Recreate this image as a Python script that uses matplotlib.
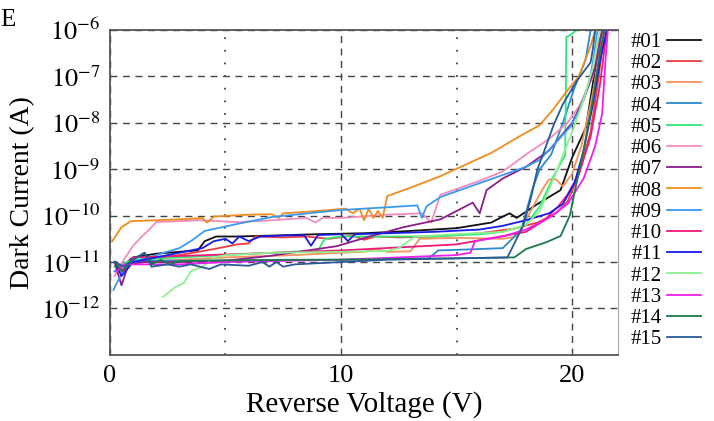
import numpy as np
import matplotlib
matplotlib.use("Agg")
from matplotlib import pyplot as plt
from matplotlib.ticker import FixedLocator, NullLocator

### reverse voltage (V) and log10 of dark current (A) for each device
v01 = [0.2, 0.5, 1.0, 2.0, 3.0, 3.8, 4.1, 4.6, 5.5, 7.0, 9.0, 11.0, 13.0, 15.0, 16.5, 17.0, 17.3, 17.6, 18.5, 19.5, 20.0, 20.6, 20.9, 21.2, 21.35]
l01 = [-11.0, -11.1, -10.9, -10.82, -10.78, -10.75, -10.55, -10.45, -10.45, -10.43, -10.4, -10.38, -10.33, -10.27, -10.15, -10.02, -9.95, -10.05, -9.75, -9.45, -8.75, -8.1, -7.15, -6.2, -6.0]

v02 = [0.3, 0.6, 1.5, 3.0, 4.5, 5.5, 6.0, 6.3, 7.5, 8.5, 9.5, 10.5, 11.0, 11.5, 12.5, 14.0, 16.0, 17.5, 18.5, 19.3, 19.8, 20.3, 20.8, 21.1, 21.4]
l02 = [-11.2, -11.05, -10.95, -10.85, -10.72, -10.62, -10.6, -10.45, -10.47, -10.45, -10.5, -10.43, -10.52, -10.45, -10.47, -10.45, -10.38, -10.28, -10.15, -9.95, -9.7, -9.1, -8.2, -7.2, -6.0]

v03 = [0.2, 1.0, 3.0, 5.0, 8.0, 10.0, 11.0, 11.5, 12.0, 13.0, 13.4, 15.0, 17.0, 17.6, 18.1, 18.7, 19.0, 19.3, 19.6, 20.0, 20.4, 20.8, 21.1, 21.3]
l03 = [-11.1, -11.0, -10.95, -10.9, -10.85, -10.8, -10.78, -10.72, -10.78, -10.77, -10.5, -10.48, -10.5, -10.45, -10.0, -9.45, -9.22, -9.22, -9.37, -9.1, -8.5, -7.6, -6.8, -6.0]

v04 = [0.2, 0.6, 1.0, 2.0, 4.0, 6.0, 8.0, 10.0, 12.0, 13.8, 14.2, 16.0, 17.0, 17.8, 18.3, 18.6, 19.1, 19.6, 20.1, 20.5, 20.6, 20.8]
l04 = [-11.2, -11.05, -10.98, -10.97, -10.97, -10.96, -10.95, -10.95, -10.93, -10.92, -10.75, -10.72, -10.7, -10.3, -9.4, -9.0, -8.68, -8.0, -7.25, -6.75, -6.6, -6.0]

v05 = [0.2, 1.0, 3.0, 5.0, 7.0, 9.0, 9.3, 10.0, 12.0, 14.0, 16.0, 17.0, 18.0, 18.6, 19.2, 19.7, 19.75, 19.9, 20.2]
l05 = [-11.1, -10.95, -10.9, -10.85, -10.8, -10.75, -10.5, -10.45, -10.45, -10.45, -10.4, -10.35, -10.2, -9.8, -9.15, -8.7, -6.15, -6.12, -6.0]

v06 = [0.2, 0.6, 1.0, 1.4, 1.7, 2.0, 3.9, 5.6, 7.0, 8.5, 8.9, 9.2, 10.0, 12.0, 13.5, 13.9, 14.3, 16.0, 17.0, 18.1, 19.0, 19.8, 20.3, 20.9, 21.1, 21.3]
l06 = [-11.3, -10.95, -10.65, -10.44, -10.3, -10.14, -10.1, -10.14, -10.1, -10.05, -10.15, -10.05, -10.05, -9.98, -9.95, -10.15, -9.55, -9.25, -9.05, -8.65, -8.35, -8.0, -7.65, -7.0, -6.5, -6.0]

v07 = [0.2, 0.5, 0.8, 1.5, 3.0, 5.0, 6.9, 9.8, 11.3, 12.7, 14.3, 15.0, 15.7, 16.0, 16.3, 17.0, 18.0, 19.0, 20.0, 20.5, 21.0, 21.3]
l07 = [-11.0, -11.5, -11.05, -11.0, -11.0, -10.97, -10.87, -10.66, -10.44, -10.25, -10.08, -9.9, -9.72, -9.95, -9.45, -9.2, -8.95, -8.6, -8.0, -7.5, -6.8, -6.0]

v08 = [0.1, 0.5, 0.9, 2.0, 3.5, 4.0, 4.2, 4.5, 6.0, 7.0, 7.3, 7.5, 9.0, 10.2, 10.5, 10.8, 11.0, 11.2, 11.4, 11.6, 11.8, 12.0, 13.0, 14.3, 16.5, 17.7, 18.6, 19.2, 19.8, 20.3, 20.8, 21.0]
l08 = [-10.55, -10.25, -10.12, -10.1, -10.07, -10.05, -10.15, -10.02, -9.98, -9.97, -10.05, -9.95, -9.9, -9.85, -9.95, -9.85, -10.1, -9.85, -10.05, -9.9, -10.05, -9.58, -9.4, -9.15, -8.65, -8.3, -8.05, -7.7, -7.3, -7.0, -6.35, -6.0]

v09 = [0.15, 0.6, 1.0, 2.0, 3.0, 3.5, 4.1, 5.5, 7.0, 9.0, 10.0, 12.0, 13.3, 13.5, 13.7, 14.3, 16.0, 18.0, 18.6, 19.9, 20.3, 20.7, 20.9, 21.1]
l09 = [-11.6, -11.15, -11.0, -10.85, -10.7, -10.55, -10.33, -10.18, -10.03, -9.93, -9.88, -9.82, -9.78, -10.05, -9.8, -9.6, -9.3, -8.95, -8.8, -8.1, -7.75, -7.2, -6.7, -6.0]

v10 = [0.3, 0.6, 1.0, 3.0, 6.0, 10.0, 15.0, 18.0, 18.8, 19.4, 19.8, 20.3, 20.8, 21.2, 21.5]
l10 = [-11.0, -11.2, -10.9, -10.87, -10.82, -10.75, -10.62, -10.35, -10.1, -9.8, -9.55, -9.1, -8.3, -7.2, -6.0]

v11 = [0.2, 0.5, 1.0, 2.0, 3.0, 4.0, 4.5, 5.0, 5.3, 5.6, 6.0, 6.5, 7.5, 8.4, 8.7, 9.0, 10.0, 10.3, 10.6, 12.0, 14.0, 16.0, 17.0, 18.0, 19.0, 19.6, 20.1, 20.5, 20.9, 21.2, 21.5]
l11 = [-11.0, -11.3, -11.0, -10.9, -10.8, -10.7, -10.55, -10.5, -10.6, -10.45, -10.55, -10.45, -10.43, -10.42, -10.65, -10.42, -10.4, -10.55, -10.4, -10.38, -10.35, -10.3, -10.22, -10.1, -9.95, -9.75, -9.3, -8.6, -7.6, -6.7, -6.0]

v12 = [2.3, 2.8, 3.2, 3.5, 4.0, 4.5, 5.0, 7.0, 10.0, 12.0, 12.5, 13.2, 15.0, 17.0, 18.0, 18.6, 19.2, 19.6, 20.0, 20.5, 20.9, 21.2]
l12 = [-11.75, -11.55, -11.45, -11.2, -11.1, -10.9, -10.85, -10.8, -10.78, -10.76, -10.7, -10.45, -10.4, -10.35, -10.2, -9.9, -9.2, -8.7, -8.2, -7.5, -6.8, -6.0]

v13 = [0.3, 0.6, 1.0, 3.0, 5.0, 10.0, 15.0, 15.6, 15.8, 17.0, 18.0, 19.0, 19.8, 20.5, 21.0, 21.3, 21.45, 21.55]
l13 = [-11.2, -11.05, -11.05, -11.05, -11.0, -10.95, -10.85, -10.8, -10.55, -10.45, -10.3, -10.05, -9.75, -9.2, -8.5, -7.8, -6.6, -6.0]

v14 = [0.2, 0.5, 1.0, 1.5, 1.8, 2.2, 2.6, 3.0, 4.0, 6.0, 10.0, 15.0, 17.5, 18.0, 18.9, 19.5, 19.9, 20.2, 20.5, 20.9, 21.2, 21.4]
l14 = [-11.0, -11.2, -10.95, -10.8, -11.05, -10.95, -11.05, -10.98, -10.97, -10.96, -10.95, -10.92, -10.9, -10.72, -10.57, -10.44, -10.0, -9.28, -8.58, -7.5, -6.5, -6.0]

v15 = [0.2, 0.6, 1.0, 1.5, 1.8, 2.5, 3.0, 3.5, 4.3, 4.8, 6.0, 6.6, 6.9, 7.2, 7.5, 8.0, 10.0, 12.0, 14.0, 17.2, 17.9, 18.2, 18.5, 18.8, 19.2, 19.6, 20.2, 20.8, 20.9, 21.0]
l15 = [-11.0, -11.1, -10.95, -10.8, -11.1, -11.05, -11.1, -11.05, -11.15, -11.05, -11.08, -11.0, -11.1, -11.0, -11.1, -11.05, -11.0, -10.95, -10.93, -10.9, -10.2, -9.65, -9.0, -8.6, -8.05, -7.6, -7.1, -6.7, -6.4, -6.0]

labels = ["#%02d" % k for k in range(1, 16)]
colors = ["#111111", "#f03c3c", "#f5925a", "#2a8acb", "#2ee87a",
          "#f28cc0", "#8b1e8b", "#f08c1e", "#3a9af0", "#f0197a",
          "#1a1ae8", "#8ef08e", "#f01ef0", "#1a7a4a", "#2a5a9a"]

voltages = [v01, v02, v03, v04, v05, v06, v07, v08, v09, v10, v11, v12, v13, v14, v15]
logcurrents = [l01, l02, l03, l04, l05, l06, l07, l08, l09, l10, l11, l12, l13, l14, l15]

plt.rcParams["font.family"] = ["Liberation Serif", "DejaVu Serif"]
plt.rcParams["mathtext.fontset"] = "stix"

fig = plt.figure(figsize=(7.14, 4.21), dpi=100)
ax = fig.add_axes([0.154, 0.157, 0.712, 0.772])

### draw every device curve
for v, lg, c, lab in zip(voltages, logcurrents, colors, labels):
    ax.plot(v, 10.0 ** np.array(lg), color=c, lw=1.3, label=lab)

ax.set_yscale("log")
ax.set_xlim(0, 22)
ax.set_ylim(1e-13, 1e-6)
ax.xaxis.set_major_locator(FixedLocator([0, 10, 20]))
ax.xaxis.set_minor_locator(FixedLocator([5, 15]))
ax.yaxis.set_major_locator(FixedLocator([1e-12, 1e-11, 1e-10, 1e-9, 1e-8, 1e-7, 1e-6]))
ax.yaxis.set_minor_locator(NullLocator())
ax.set_yticklabels([r"$10^{-%d}$" % k for k in range(12, 5, -1)])

ax.grid(True, which="major", axis="y", color="#444444", ls=(0, (5, 4)), lw=1.0)
ax.grid(True, which="major", axis="x", color="#444444", ls=(0, (5, 4)), lw=1.0)
ax.grid(True, which="minor", axis="x", color="#444444", ls=(0, (1, 6)), lw=1.3)
ax.set_axisbelow(True)

ax.tick_params(which="both", length=0, pad=7)
ax.tick_params(axis="y", labelsize=19)
ax.tick_params(axis="x", labelsize=19)
for side in ["left", "bottom", "top"]:
    ax.spines[side].set_color("#555555")
    ax.spines[side].set_linewidth(1.3)
ax.spines["right"].set_color("#aaaaaa")

ax.set_xlabel("Reverse Voltage (V)", fontsize=21, labelpad=3)
ax.set_ylabel("Dark Current (A)", fontsize=20, labelpad=4)

ax.legend(loc="upper left", bbox_to_anchor=(1.008, 1.018), frameon=False,
          markerfirst=False, fontsize=15, handlelength=1.6, handletextpad=0.25,
          labelspacing=0.08, borderaxespad=0.0)

### panel letter in the top-left corner
fig.text(0.001, 0.952, "E", fontsize=18, va="center", ha="left")

fig.savefig("out.png", dpi=100)
